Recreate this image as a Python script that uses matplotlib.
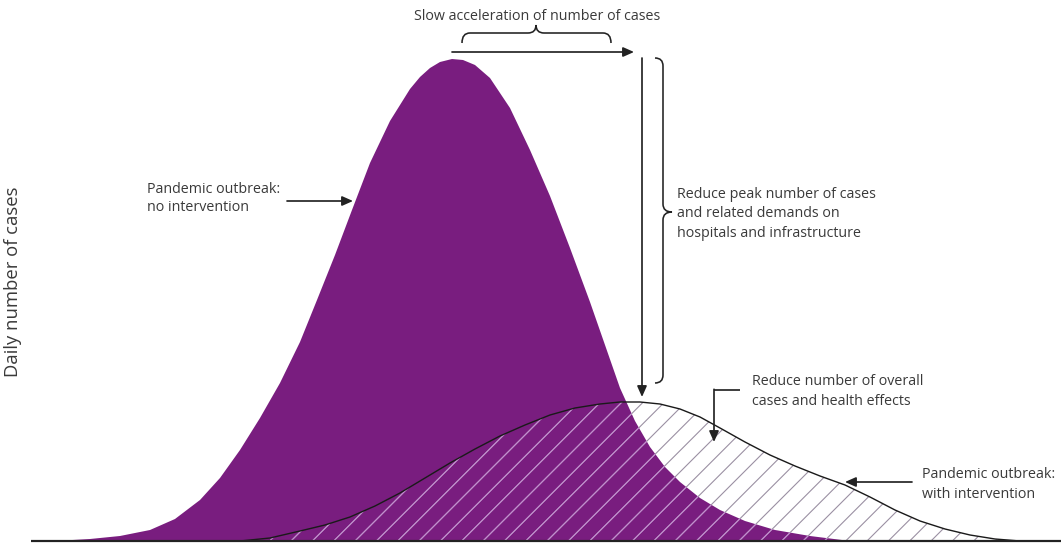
import matplotlib
matplotlib.use("Agg")
import matplotlib.pyplot as plt
from matplotlib.path import Path
from matplotlib.patches import PathPatch

# ── data ──
# "no intervention" curve
days_no_action = [5.5, 9, 12, 15, 17.5, 20, 22, 24, 26, 28, 30, 31.7, 33.5,
                  35.2, 37, 39, 41, 42, 43, 44, 45.2, 46.3, 47.5, 49, 51, 53,
                  55, 57, 59, 60.5, 62, 63.5, 65, 66.5, 68, 70, 72, 74.5, 77.5,
                  81, 85]
cases_no_action = [0, 2, 5, 11, 22, 41, 63, 91, 123, 158, 199, 241, 286,
                   331, 378, 420, 452, 464, 473, 479, 482, 481, 476, 463, 433, 391,
                   345, 293, 239, 196, 153, 120, 94, 74, 59, 43, 31, 20, 11,
                   5, 0]

# "with intervention" curve
days_action = [24, 27, 30, 32.5, 35, 37.5, 40, 42.5, 45, 47.5, 50, 52.5, 55,
               57.5, 60, 62, 64, 66, 68, 70, 72, 74.5, 77, 79.5, 82, 84.5,
               87, 89.5, 92, 94.5, 97, 99.5, 102]
cases_action = [0, 3, 10, 16, 24, 35, 48, 63, 78, 92, 105, 116, 126,
                133, 137, 139, 139, 137, 132, 124, 113, 99, 86, 75, 65, 56,
                44, 31, 20, 12, 6, 2, 0]

# ── style ──
W, H, DPI = 1061, 546, 128
PURPLE     = "#791d7f"
HATCH_GREY = "#9a8fa2"
HATCH_PINK = "#c68cd3"
INK        = "#222222"
TEXT_COL   = "#3a3a3a"


def px(v):
    # pixel size -> points at the output dpi
    return v * 72 / DPI


plt.rcParams.update({
    "font.family": ["Open Sans", "DejaVu Sans"],
    "font.size": px(14.25),
    "hatch.linewidth": px(1.1),
})

fig = plt.figure(figsize=(W / DPI, H / DPI), dpi=DPI)
fig.patch.set_facecolor("white")

# data axes (days / cases)
ax = fig.add_axes([0, 0, 1, 1])
ax.set_xlim(0, W / 10)
ax.set_ylim(-5, 541)
ax.axis("off")

purple = ax.fill_between(days_no_action, cases_no_action, 0,
                         facecolor=PURPLE, edgecolor="none", zorder=1)

# hatch over the white part
ax.fill_between(days_action, cases_action, 0, facecolor="none",
                edgecolor=HATCH_GREY, hatch="//", linewidth=0, zorder=2)
# lighter hatch where it sits on the purple
pink = ax.fill_between(days_action, cases_action, 0, facecolor="none",
                       edgecolor=HATCH_PINK, hatch="//", linewidth=0, zorder=3)
pink.set_clip_path(purple.get_paths()[0], ax.transData)

ax.plot(days_action, cases_action, color="#1a1a1a", lw=px(1.4), zorder=4)
ax.plot([3.1, W / 10], [0, 0], color=INK, lw=px(2.2), zorder=5,
        solid_capstyle="butt")

# overlay axes in pixel coords for the annotations
ov = fig.add_axes([0, 0, 1, 1], zorder=3)
ov.set_xlim(0, W)
ov.set_ylim(H, 0)
ov.axis("off")
ov.patch.set_alpha(0)

ARROW = dict(arrowstyle="-|>,head_length=0.45,head_width=0.2",
             mutation_scale=px(20), lw=px(1.7), color=INK,
             shrinkA=0, shrinkB=0)


def arrow(x0, y0, x1, y1):
    ov.annotate("", xy=(x1, y1), xytext=(x0, y0), arrowprops=ARROW)


def brace(end, body, tip, a0, a1, am, r, vertical=True):
    # curly brace; 'a' runs along the brace, end/body/tip across it
    pts = [(end, a0), (body, a0), (body, a0 + r),
           (body, am - r),
           (body, am), (tip, am),
           (body, am), (body, am + r),
           (body, a1 - r),
           (body, a1), (end, a1)]
    codes = [Path.MOVETO, Path.CURVE3, Path.CURVE3, Path.LINETO,
             Path.CURVE3, Path.CURVE3, Path.CURVE3, Path.CURVE3,
             Path.LINETO, Path.CURVE3, Path.CURVE3]
    if not vertical:
        pts = [(a, c) for c, a in pts]
    ov.add_patch(PathPatch(Path(pts, codes), facecolor="none",
                           edgecolor=INK, lw=px(1.6)))


def label(x, y, s, **kw):
    ov.text(x, y + 5, s, color=TEXT_COL, va="baseline", **kw)


# top: slow acceleration
label(537, 15, "Slow acceleration of number of cases", ha="center")
brace(43, 33, 25, 462, 611, 536, 8, vertical=False)
arrow(452, 52, 634, 52)

# peak reduction
arrow(642, 58, 642, 397)
brace(655, 663, 672, 58, 383, 212, 8)
label(677, 193, "Reduce peak number of cases")
label(677, 212, "and related demands on")
label(677, 232, "hospitals and infrastructure")

# no intervention
label(147, 188, "Pandemic outbreak:")
label(147, 206, "no intervention")
arrow(287, 201, 353, 201)

# overall cases
label(752, 380, "Reduce number of overall")
label(752, 400, "cases and health effects")
ov.plot([740, 714], [390, 390], color=INK, lw=px(1.7), solid_capstyle="butt")
arrow(714, 389.3, 714, 442)

# with intervention
label(922, 473, "Pandemic outbreak:")
label(922, 493, "with intervention")
arrow(912, 482, 845, 482)

# y label
ov.text(13, 282, "Daily number of cases", rotation=90, ha="center",
        va="center", color=TEXT_COL, fontsize=px(18.5))

fig.savefig("out.png", dpi=DPI, facecolor="white")
